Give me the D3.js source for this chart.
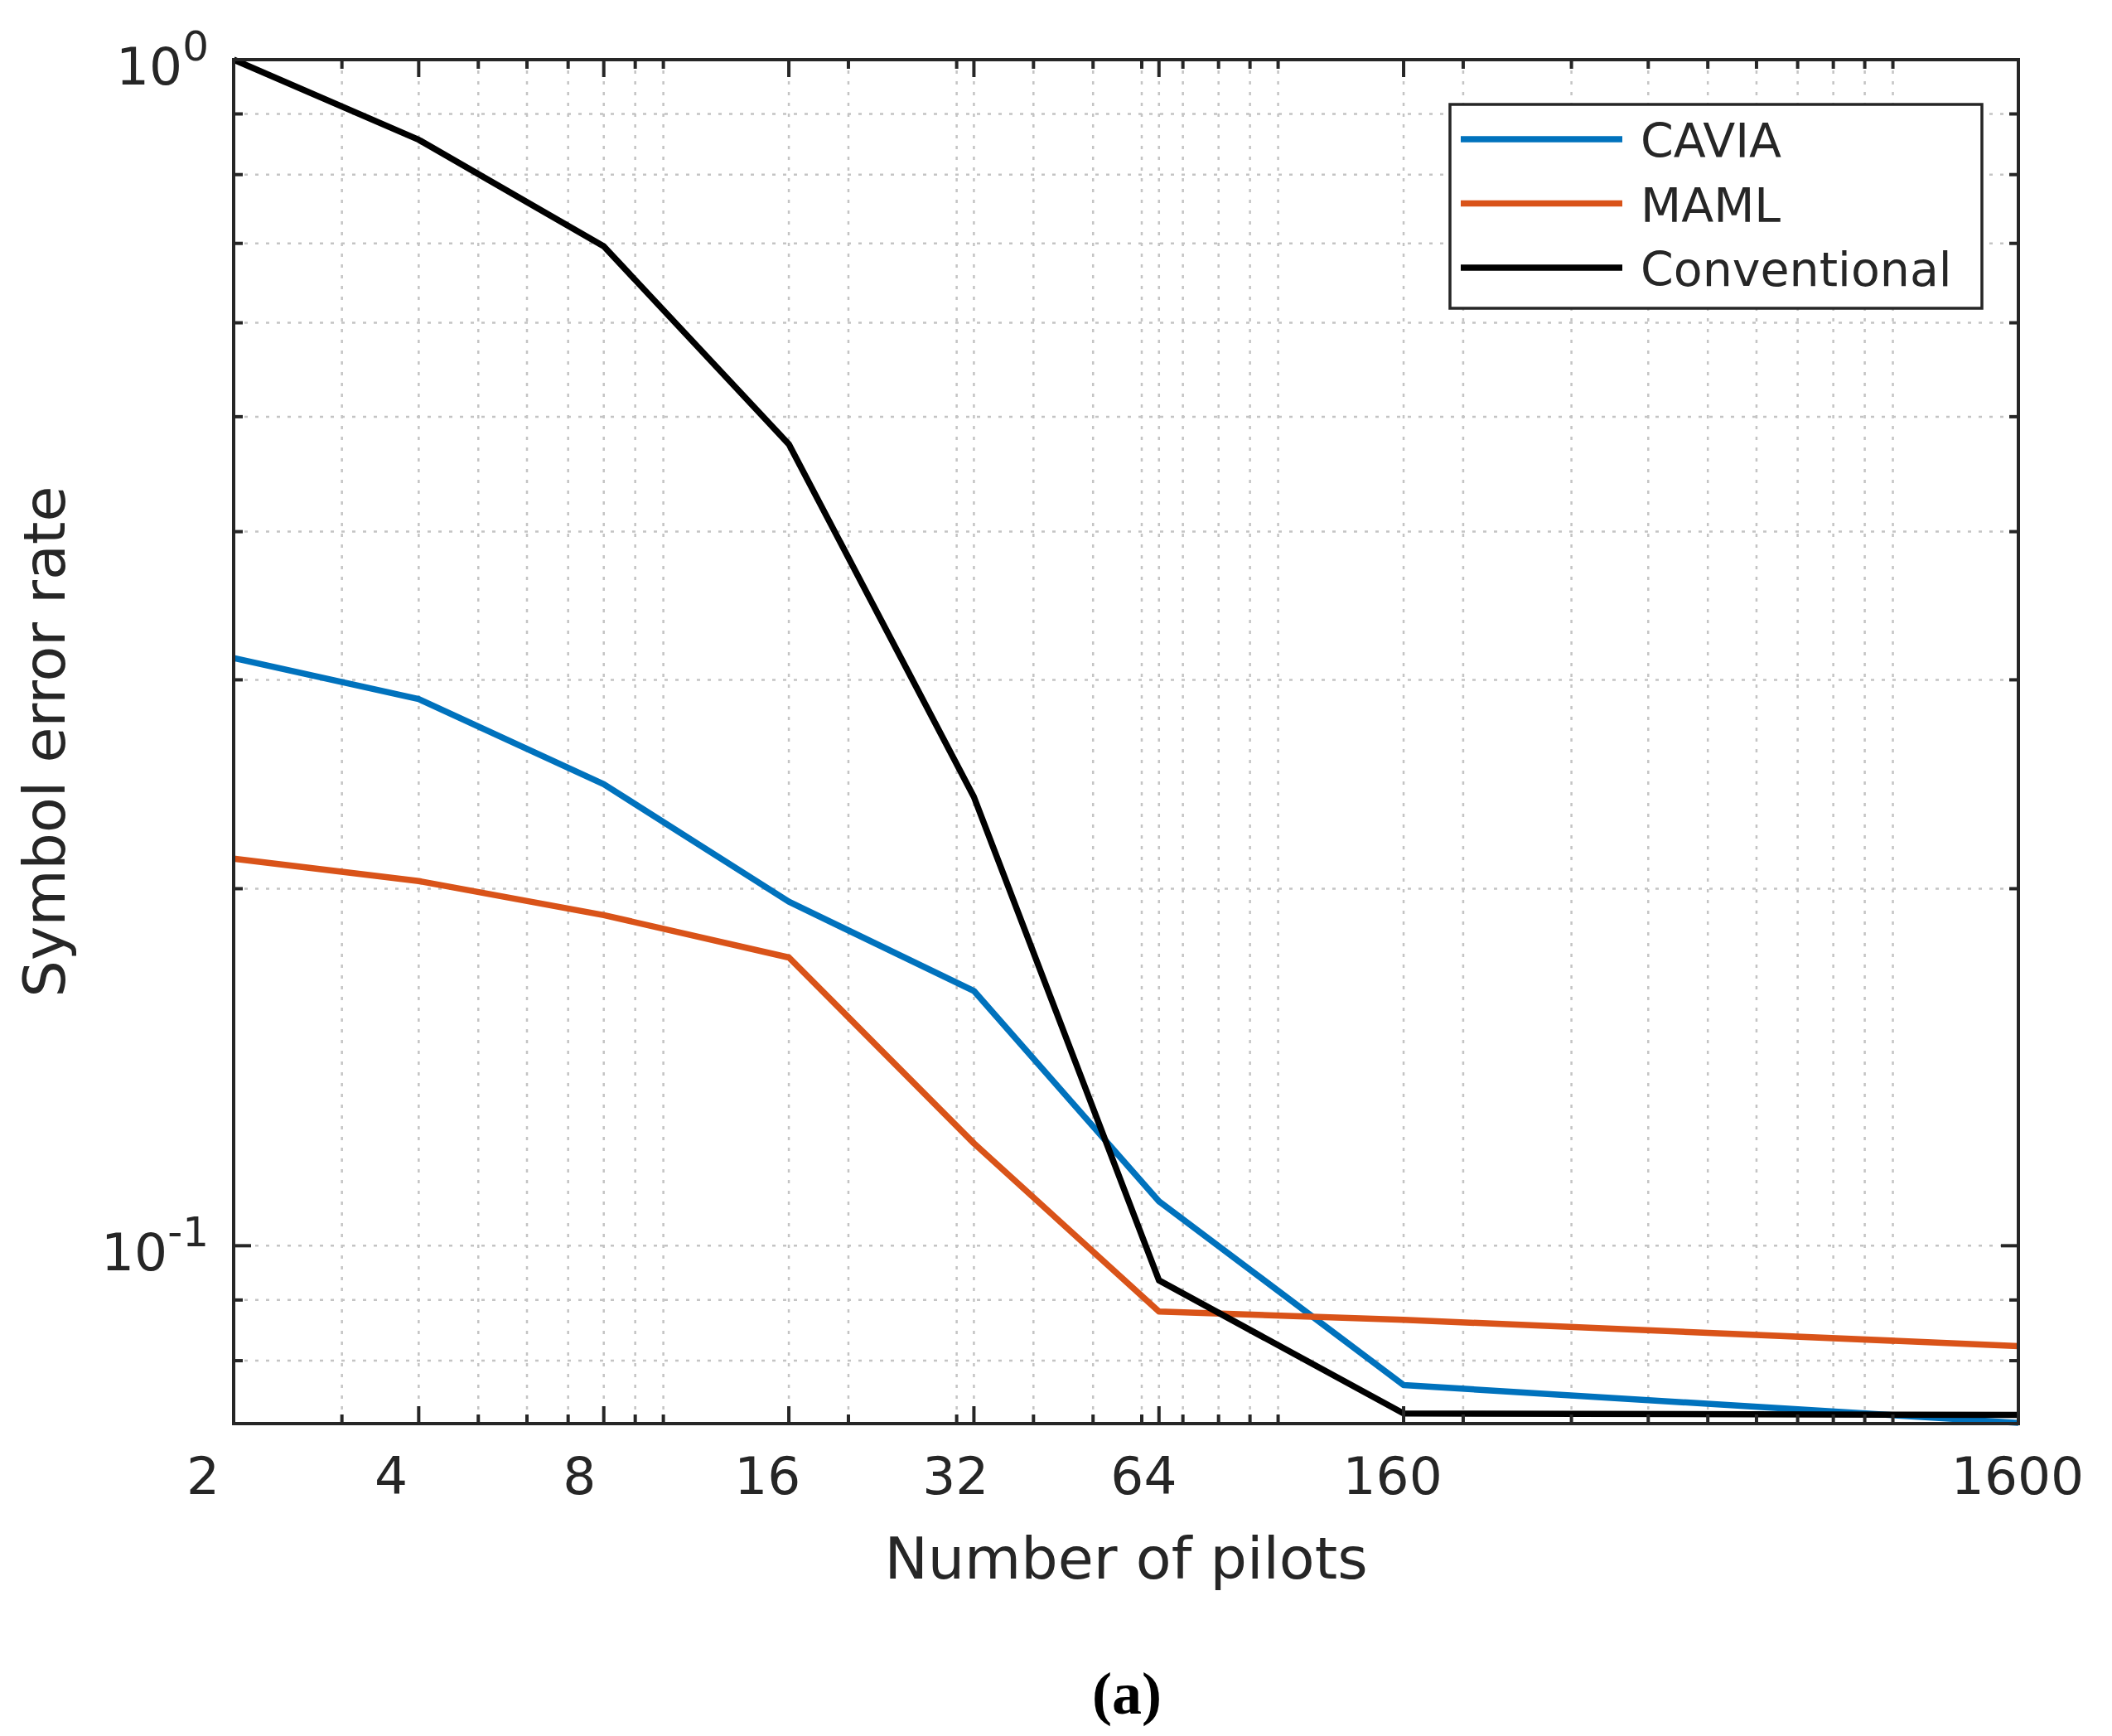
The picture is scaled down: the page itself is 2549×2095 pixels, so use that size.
<!DOCTYPE html>
<html>
<head>
<meta charset="utf-8">
<script src="https://cdn.jsdelivr.net/npm/d3@7"></script>
<style>
  html, body { margin: 0; padding: 0; background: #fff; }
  svg { display: block; }
</style>
</head>
<body>
<script>
// ---- data ----
const pilots = [2, 4, 8, 16, 32, 64, 160, 1600];
const cavia = [0.313, 0.289, 0.245, 0.195, 0.164, 0.109, 0.0763, 0.0709];
const maml = [0.212, 0.203, 0.190, 0.175, 0.122, 0.088, 0.0866, 0.0823];
const conventional = [1.0, 0.856, 0.696, 0.474, 0.239, 0.0935, 0.0722, 0.0720];
const seriesNames = ["CAVIA", "MAML", "Conventional"];
const seriesColors = ["#0072BD", "#D95319", "#000000"];
const xTickValues = [2, 4, 8, 16, 32, 64, 160, 1600];
const xTickLabels = ["2", "4", "8", "16", "32", "64", "160", "1600"];
const yTickValues = [1, 0.1];
const yTickExponents = ["0", "-1"];
const xDomain = [2, 1600];
const yDomain = [0.0708, 1];

const W = 2549, H = 2095;
const L = 282, R = 2436, T = 72, B = 1718;
const ink = "#262626";
const font = "'DejaVu Sans', sans-serif";

const svg = d3.select("body").append("svg").attr("width", W).attr("height", H);

const x = d3.scaleLog().domain(xDomain).range([L, R]);
const y = d3.scaleLog().domain(yDomain).range([B, T]);
const xLab = d3.scaleLog().domain(xDomain).range([L - 37, R - 1]);

const xMinor = x.ticks().filter(v => v >= xDomain[0] && v <= xDomain[1] && !xTickValues.includes(v));
const yMinor = y.ticks().filter(v => v >= yDomain[0] && v <= yDomain[1] && !yTickValues.some(t => Math.abs(t - v) < 1e-9));

// ---- grid ----
const grid = svg.append("g").attr("stroke", "#c4c4c4").attr("stroke-width", 2.5).attr("stroke-dasharray", "4,9");
xMinor.concat(xTickValues).forEach(v => {
  grid.append("line").attr("x1", x(v)).attr("x2", x(v)).attr("y1", T).attr("y2", B);
});
yMinor.concat(yTickValues).forEach(v => {
  grid.append("line").attr("x1", L).attr("x2", R).attr("y1", y(v)).attr("y2", y(v));
});

// ---- lines ----
const seriesData = [cavia, maml, conventional];
const line = d3.line().x(d => x(d[0])).y(d => y(d[1]));
seriesData.forEach((vals, i) => {
  svg.append("path")
    .datum(pilots.map((p, j) => [p, vals[j]]))
    .attr("d", line)
    .attr("fill", "none")
    .attr("stroke", seriesColors[i])
    .attr("stroke-width", 7.5)
    .attr("stroke-linejoin", "round")
    .attr("stroke-linecap", "butt");
});

// ---- axes box and ticks ----
const ax = svg.append("g").attr("stroke", ink).attr("stroke-width", 4);
ax.append("rect").attr("x", L).attr("y", T).attr("width", R - L).attr("height", B - T).attr("fill", "none");
function xt(v, len) {
  ax.append("line").attr("x1", x(v)).attr("x2", x(v)).attr("y1", B).attr("y2", B - len);
  ax.append("line").attr("x1", x(v)).attr("x2", x(v)).attr("y1", T).attr("y2", T + len);
}
function yt(v, len) {
  ax.append("line").attr("y1", y(v)).attr("y2", y(v)).attr("x1", L).attr("x2", L + len);
  ax.append("line").attr("y1", y(v)).attr("y2", y(v)).attr("x1", R).attr("x2", R - len);
}
xMinor.forEach(v => xt(v, 11));
xTickValues.forEach(v => xt(v, 21));
yMinor.forEach(v => yt(v, 11));
yTickValues.forEach(v => yt(v, 21));

// ---- tick labels ----
xTickValues.forEach((v, i) => {
  svg.append("text").attr("x", xLab(v)).attr("y", 1803)
    .attr("text-anchor", "middle").attr("font-family", font).attr("font-size", 63)
    .attr("fill", ink).text(xTickLabels[i]);
});
yTickValues.forEach((v, i) => {
  const t = svg.append("text").attr("x", 252).attr("y", y(v) + 30)
    .attr("text-anchor", "end").attr("font-family", font).attr("font-size", 63).attr("fill", ink);
  t.append("tspan").text("10");
  t.append("tspan").attr("dy", -29).attr("font-size", 50).text(yTickExponents[i]);
});

// ---- axis labels ----
svg.append("text").attr("x", (L + R) / 2).attr("y", 1905)
  .attr("text-anchor", "middle").attr("font-family", font).attr("font-size", 70)
  .attr("fill", ink).text("Number of pilots");
svg.append("text").attr("transform", `translate(78,${(T + B) / 2}) rotate(-90)`)
  .attr("text-anchor", "middle").attr("font-family", font).attr("font-size", 70)
  .attr("fill", ink).text("Symbol error rate");

// ---- legend ----
const lg = svg.append("g");
lg.append("rect").attr("x", 1750).attr("y", 126).attr("width", 642).attr("height", 246)
  .attr("fill", "#fff").attr("stroke", ink).attr("stroke-width", 3.5);
seriesNames.forEach((n, i) => {
  const cy = 168 + i * 77.5;
  lg.append("line").attr("x1", 1763).attr("x2", 1958).attr("y1", cy).attr("y2", cy)
    .attr("stroke", seriesColors[i]).attr("stroke-width", 7.5);
  lg.append("text").attr("x", 1980).attr("y", cy + 22)
    .attr("font-family", font).attr("font-size", 57).attr("fill", ink).text(n);
});

// ---- caption ----
svg.append("text").attr("x", 1360).attr("y", 2068).attr("text-anchor", "middle")
  .attr("font-family", "'Liberation Serif', 'Times New Roman', serif").attr("font-weight", "bold")
  .attr("font-size", 72).attr("fill", "#000").text("(a)");
</script>
</body>
</html>
